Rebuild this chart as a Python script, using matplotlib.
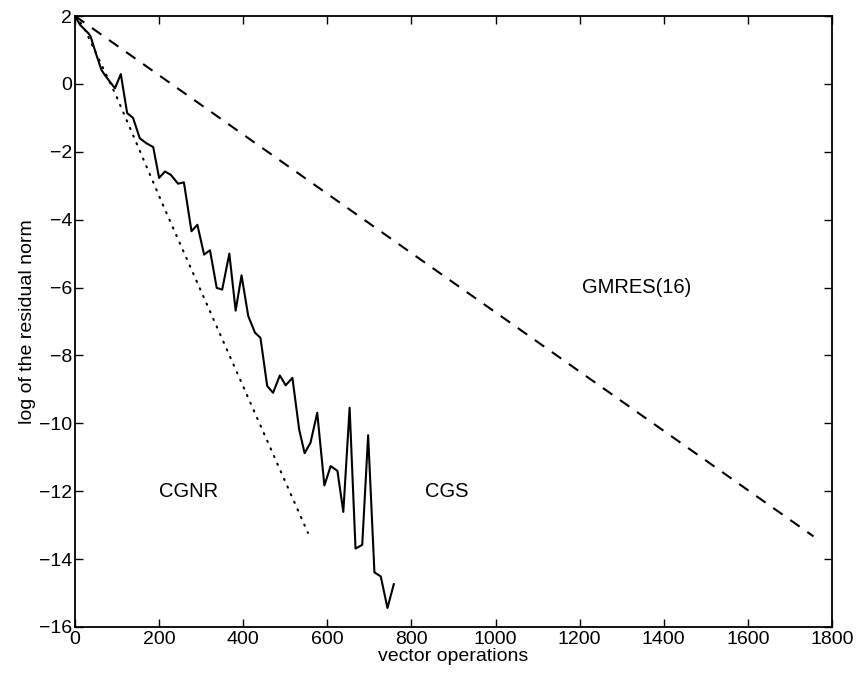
import numpy as np
import matplotlib
matplotlib.use('Agg')
import matplotlib.pyplot as plt

plt.rcParams['font.family'] = ['Liberation Sans', 'DejaVu Sans']

# CGS - solid line
cgs_x = [0, 12, 32, 37, 51, 63, 71, 95, 109, 124, 138, 154, 170, 186, 200, 214, 228,
         245, 259, 277, 291, 307, 321, 337, 350, 367, 382, 396, 412, 428, 441, 457,
         471, 487, 501, 517, 533, 546, 560, 576, 593, 608, 624, 638, 653, 667, 683,
         697, 712, 727, 743, 758]
cgs_y = [2.0, 1.74, 1.49, 1.4, 0.85, 0.41, 0.26, -0.13, 0.29, -0.86, -1.0, -1.6, -1.75,
         -1.86, -2.77, -2.58, -2.68, -2.94, -2.9, -4.34, -4.15, -5.03, -4.9, -6.01,
         -6.06, -5.0, -6.68, -5.64, -6.84, -7.33, -7.48, -8.9, -9.1, -8.59, -8.88,
         -8.66, -10.18, -10.88, -10.57, -9.69, -11.83, -11.26, -11.4, -12.61, -9.54,
         -13.69, -13.58, -10.35, -14.39, -14.51, -15.44, -14.74]

# CGNR - dotted line
cgnr_x = [0, 20, 67, 99, 211, 463, 554]
cgnr_y = [2.0, 1.69, 0.46, -0.38, -3.62, -10.68, -13.23]

# GMRES(16) - dashed line
gmres_x = [0, 1756]
gmres_y = [2.0, -13.33]

fig = plt.figure(figsize=(8.58, 6.79), dpi=100)
ax = fig.add_axes([0.0874, 0.0766, 0.8823, 0.8998])

ax.plot(cgs_x, cgs_y, color='black', lw=1.5, linestyle='-')
ax.plot(cgnr_x, cgnr_y, color='black', lw=1.5, linestyle=(0, (0.6, 3.4)), dash_capstyle='round')
ax.plot(gmres_x, gmres_y, color='black', lw=1.5, linestyle=(0, (5.5, 4.5)))

ax.text(1335, -6.0, 'GMRES(16)', fontsize=14.5, ha='center', va='center')
ax.text(270, -12.0, 'CGNR', fontsize=14.5, ha='center', va='center')
ax.text(883, -12.0, 'CGS', fontsize=14.5, ha='center', va='center')

ax.set_xlim(0, 1800)
ax.set_ylim(-16, 2)
ax.set_xticks(np.arange(0, 1801, 200))
ax.set_yticks(np.arange(-16, 3, 2))
ax.tick_params(direction='in', top=True, right=True, length=6, width=1, labelsize=14, pad=2)
ax.tick_params(axis='x', pad=3)
for s in ax.spines.values():
    s.set_linewidth(1.3)

ax.set_xlabel('vector operations', fontsize=14, labelpad=0)
ax.set_ylabel('log of the residual norm', fontsize=14, labelpad=2)

fig.savefig('out.png', dpi=100)
